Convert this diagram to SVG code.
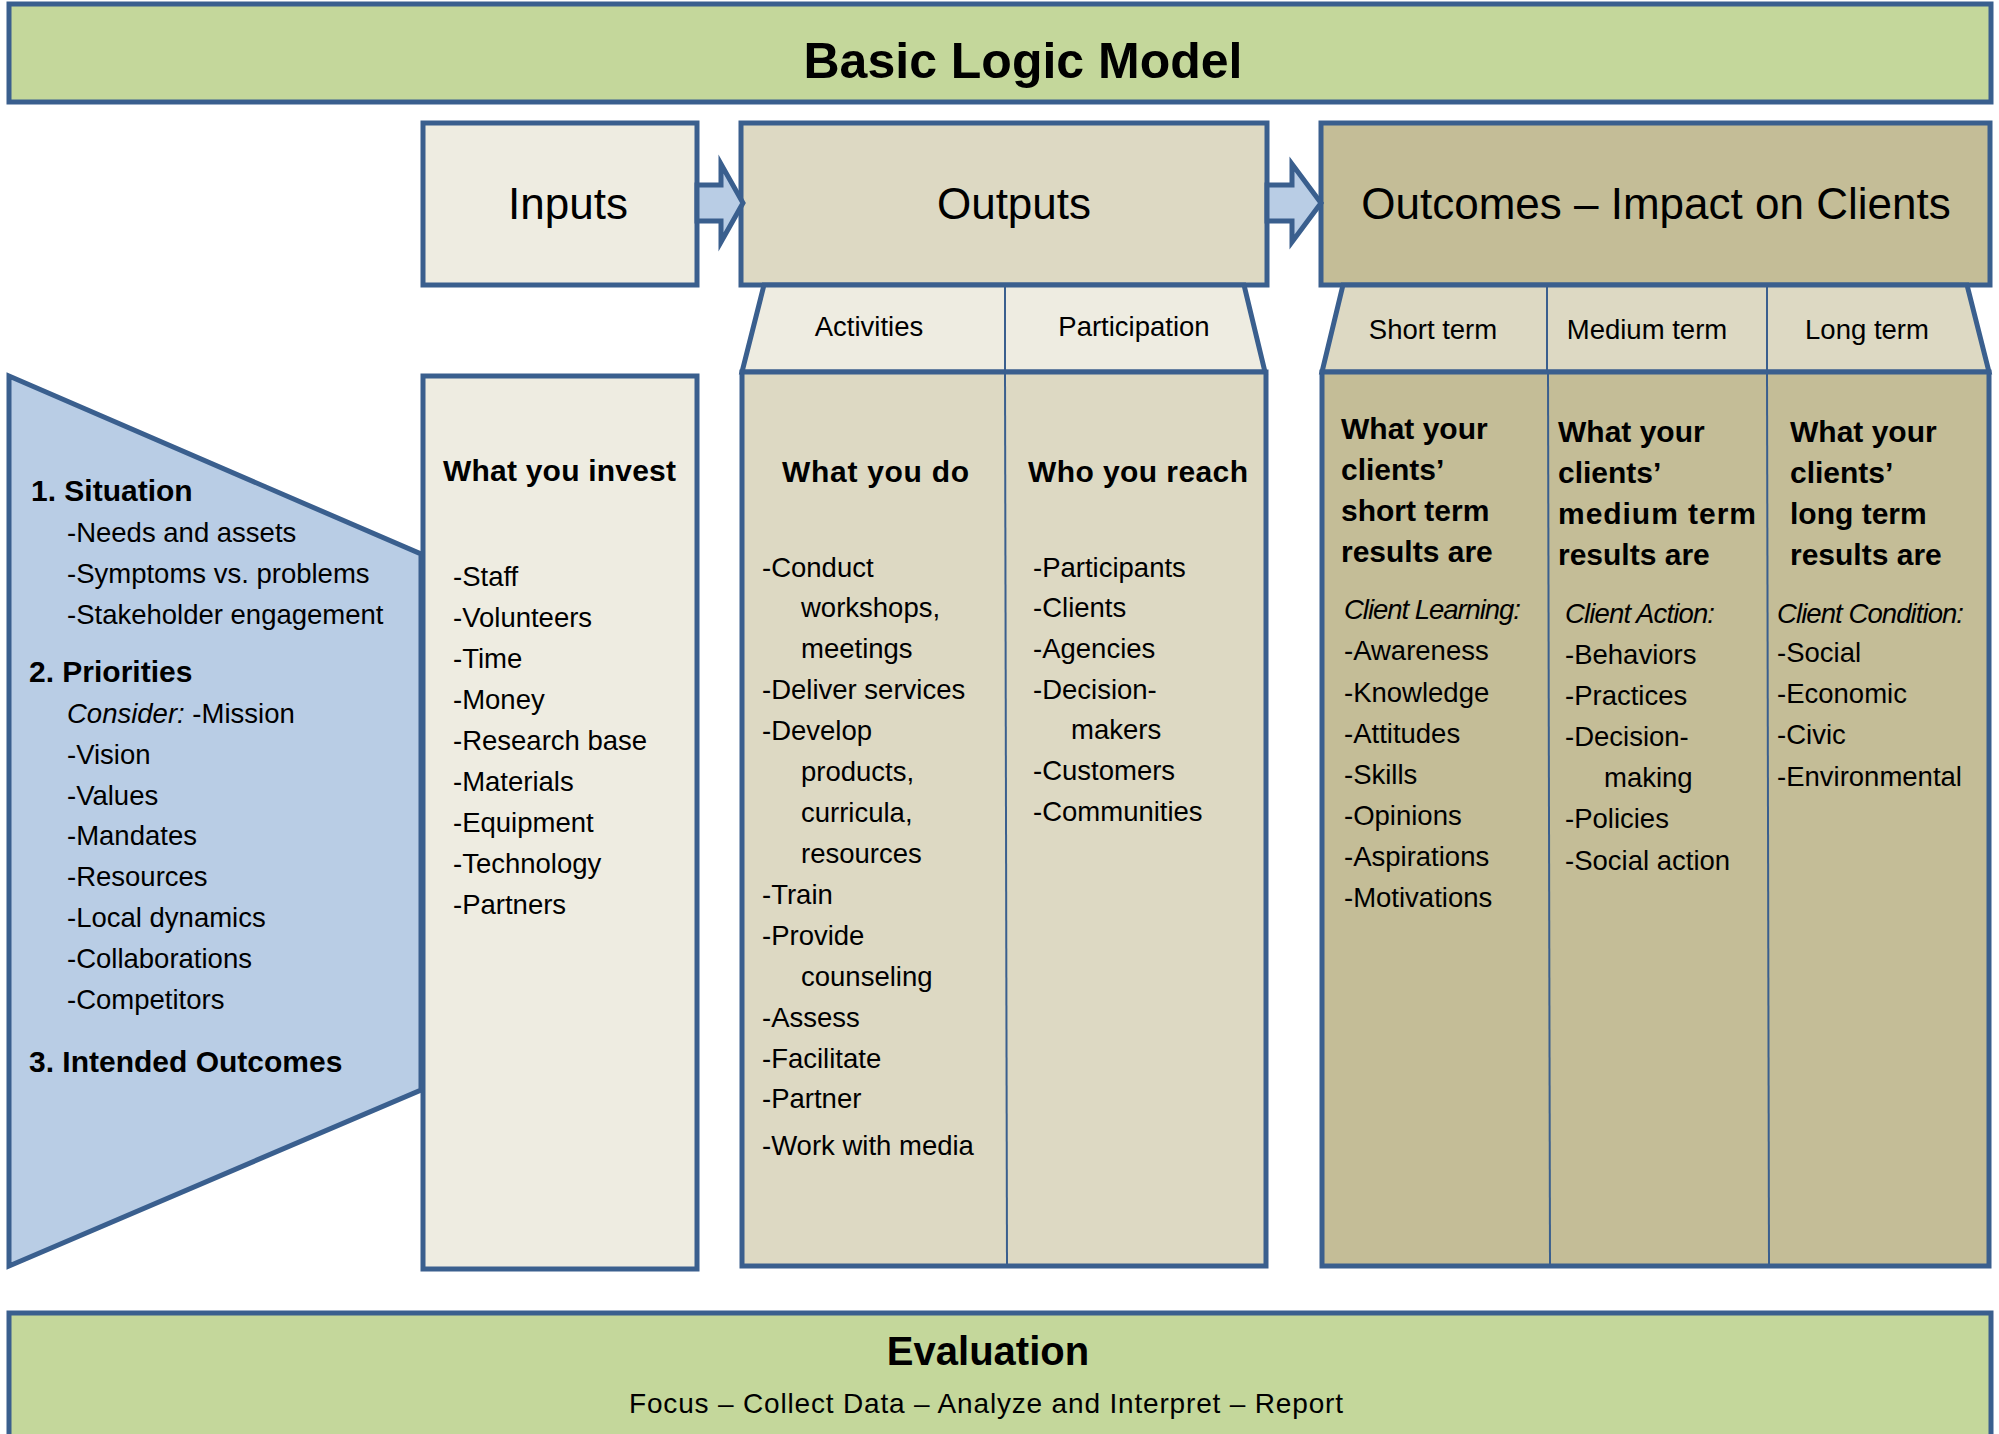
<svg xmlns="http://www.w3.org/2000/svg" width="1999" height="1434" viewBox="0 0 1999 1434">
  <style>
    .box { stroke: #3a5f8e; stroke-width: 5; stroke-linejoin: miter; }
    .div { stroke: #3a5f8e; stroke-width: 2; fill: none; }
    .green { fill: #c4d79b; }
    .tan1 { fill: #eeece1; }
    .tan2 { fill: #ddd9c3; }
    .tan3 { fill: #c4bd97; }
    .blue { fill: #b9cde5; }
    text { font-family: "Liberation Sans", Arial, sans-serif; fill: #000; }
    .big { font-size: 44px; text-anchor: middle; }
    .sub { font-size: 27.5px; text-anchor: middle; }
    .t { font-size: 27.5px; }
    .b { font-size: 30px; font-weight: bold; }
    .i { font-size: 27.5px; font-style: italic; }
  </style>

  <!-- Title banner -->
  <g id="title">
    <rect class="box green" x="9" y="4" width="1982" height="98"/>
    <text x="1023" y="78" font-size="50" font-weight="bold" text-anchor="middle">Basic Logic Model</text>
  </g>

  <!-- Situation / priorities funnel -->
  <g id="situation">
    <polygon class="box blue" points="9,376 421,554 421,1090 9,1266"/>
    <text class="b" x="31" y="501" font-size="28">1. Situation</text>
    <text class="t" x="67" y="542">-Needs and assets</text>
    <text class="t" x="67" y="583">-Symptoms vs. problems</text>
    <text class="t" x="67" y="624">-Stakeholder engagement</text>
    <text class="b" x="29" y="682" font-size="28">2. Priorities</text>
    <text class="t" x="67" y="723"><tspan font-style="italic">Consider:</tspan> -Mission</text>
    <text class="t" x="67" y="764">-Vision</text>
    <text class="t" x="67" y="805">-Values</text>
    <text class="t" x="67" y="845">-Mandates</text>
    <text class="t" x="67" y="886">-Resources</text>
    <text class="t" x="67" y="927">-Local dynamics</text>
    <text class="t" x="67" y="968">-Collaborations</text>
    <text class="t" x="67" y="1009">-Competitors</text>
    <text class="b" x="29" y="1072" font-size="28">3. Intended Outcomes</text>
  </g>

  <!-- Inputs -->
  <g id="inputs">
    <rect class="box tan1" x="423" y="123" width="274" height="162"/>
    <text class="big" x="568" y="219">Inputs</text>
    <rect class="box tan1" x="423" y="376" width="274" height="893"/>
    <text class="b" x="443" y="481" textLength="233">What you invest</text>
    <text class="t" x="453" y="586">-Staff</text>
    <text class="t" x="453" y="627">-Volunteers</text>
    <text class="t" x="453" y="668">-Time</text>
    <text class="t" x="453" y="709">-Money</text>
    <text class="t" x="453" y="750">-Research base</text>
    <text class="t" x="453" y="791">-Materials</text>
    <text class="t" x="453" y="832">-Equipment</text>
    <text class="t" x="453" y="873">-Technology</text>
    <text class="t" x="453" y="914">-Partners</text>
  </g>

  <!-- Outputs -->
  <g id="outputs">
    <rect class="box tan2" x="741" y="123" width="526" height="162"/>
    <text class="big" x="1014" y="219">Outputs</text>
    <polygon class="box tan1" points="764,285 1244,285 1265,372 742,372"/>
    <line class="div" x1="1005" y1="285" x2="1005" y2="372"/>
    <text class="sub" x="869" y="336">Activities</text>
    <text class="sub" x="1134" y="336">Participation</text>
    <rect class="box tan2" x="742" y="372" width="524" height="894"/>
    <line class="div" x1="1005" y1="372" x2="1007" y2="1266"/>
    <text class="b" x="782" y="482" textLength="187">What you do</text>
    <text class="b" x="1028" y="482" textLength="220">Who you reach</text>
    <text class="t" x="762" y="577">-Conduct</text>
    <text class="t" x="801" y="617">workshops,</text>
    <text class="t" x="801" y="658">meetings</text>
    <text class="t" x="762" y="699">-Deliver services</text>
    <text class="t" x="762" y="740">-Develop</text>
    <text class="t" x="801" y="781">products,</text>
    <text class="t" x="801" y="822">curricula,</text>
    <text class="t" x="801" y="863">resources</text>
    <text class="t" x="762" y="904">-Train</text>
    <text class="t" x="762" y="945">-Provide</text>
    <text class="t" x="801" y="986">counseling</text>
    <text class="t" x="762" y="1027">-Assess</text>
    <text class="t" x="762" y="1068">-Facilitate</text>
    <text class="t" x="762" y="1108">-Partner</text>
    <text class="t" x="762" y="1155">-Work with media</text>
    <text class="t" x="1033" y="577">-Participants</text>
    <text class="t" x="1033" y="617">-Clients</text>
    <text class="t" x="1033" y="658">-Agencies</text>
    <text class="t" x="1033" y="699">-Decision-</text>
    <text class="t" x="1071" y="739">makers</text>
    <text class="t" x="1033" y="780">-Customers</text>
    <text class="t" x="1033" y="821">-Communities</text>
  </g>

  <!-- Outcomes -->
  <g id="outcomes">
    <rect class="box tan3" x="1321" y="123" width="669" height="162"/>
    <text class="big" x="1656" y="219">Outcomes – Impact on Clients</text>
    <polygon class="box tan2" points="1343,285 1967,285 1989,372 1322,372"/>
    <line class="div" x1="1547" y1="285" x2="1547" y2="372"/>
    <line class="div" x1="1767" y1="285" x2="1767" y2="372"/>
    <text class="sub" x="1433" y="339">Short term</text>
    <text class="sub" x="1647" y="339">Medium term</text>
    <text class="sub" x="1867" y="339">Long term</text>
    <rect class="box tan3" x="1322" y="372" width="667" height="894"/>
    <line class="div" x1="1548" y1="372" x2="1550" y2="1266"/>
    <line class="div" x1="1767" y1="372" x2="1769" y2="1266"/>

    <text class="b" x="1341" y="439">What your</text>
    <text class="b" x="1341" y="480">clients’</text>
    <text class="b" x="1341" y="521">short term</text>
    <text class="b" x="1341" y="562">results are</text>
    <text class="i" x="1344" y="619" textLength="177">Client Learning:</text>
    <text class="t" x="1344" y="660">-Awareness</text>
    <text class="t" x="1344" y="702">-Knowledge</text>
    <text class="t" x="1344" y="743">-Attitudes</text>
    <text class="t" x="1344" y="784">-Skills</text>
    <text class="t" x="1344" y="825">-Opinions</text>
    <text class="t" x="1344" y="866">-Aspirations</text>
    <text class="t" x="1344" y="907">-Motivations</text>

    <text class="b" x="1558" y="442">What your</text>
    <text class="b" x="1558" y="483">clients’</text>
    <text class="b" x="1558" y="524" textLength="198">medium term</text>
    <text class="b" x="1558" y="565">results are</text>
    <text class="i" x="1565" y="623" textLength="150">Client Action:</text>
    <text class="t" x="1565" y="664">-Behaviors</text>
    <text class="t" x="1565" y="705">-Practices</text>
    <text class="t" x="1565" y="746">-Decision-</text>
    <text class="t" x="1604" y="787">making</text>
    <text class="t" x="1565" y="828">-Policies</text>
    <text class="t" x="1565" y="870">-Social action</text>

    <text class="b" x="1790" y="442">What your</text>
    <text class="b" x="1790" y="483">clients’</text>
    <text class="b" x="1790" y="524">long term</text>
    <text class="b" x="1790" y="565">results are</text>
    <text class="i" x="1777" y="623" textLength="187">Client Condition:</text>
    <text class="t" x="1777" y="662">-Social</text>
    <text class="t" x="1777" y="703">-Economic</text>
    <text class="t" x="1777" y="744">-Civic</text>
    <text class="t" x="1777" y="786">-Environmental</text>
  </g>

  <!-- Evaluation banner -->
  <g id="evaluation">
    <rect class="box green" x="9" y="1313" width="1982" height="140"/>
    <text x="988" y="1365" font-size="40" font-weight="bold" text-anchor="middle">Evaluation</text>
    <text x="986" y="1413" font-size="28" text-anchor="middle" textLength="714">Focus – Collect Data – Analyze and Interpret – Report</text>
  </g>

  <!-- Block arrows between the stages -->
  <g id="connectors">
    <polygon class="box blue" stroke-width="4" points="697,185 721,185 721,164 743,203 721,242 721,221 697,221"/>
    <polygon class="box blue" stroke-width="4" points="1267,185 1292,185 1292,164 1321,203 1292,242 1292,221 1267,221"/>
  </g>
</svg>
